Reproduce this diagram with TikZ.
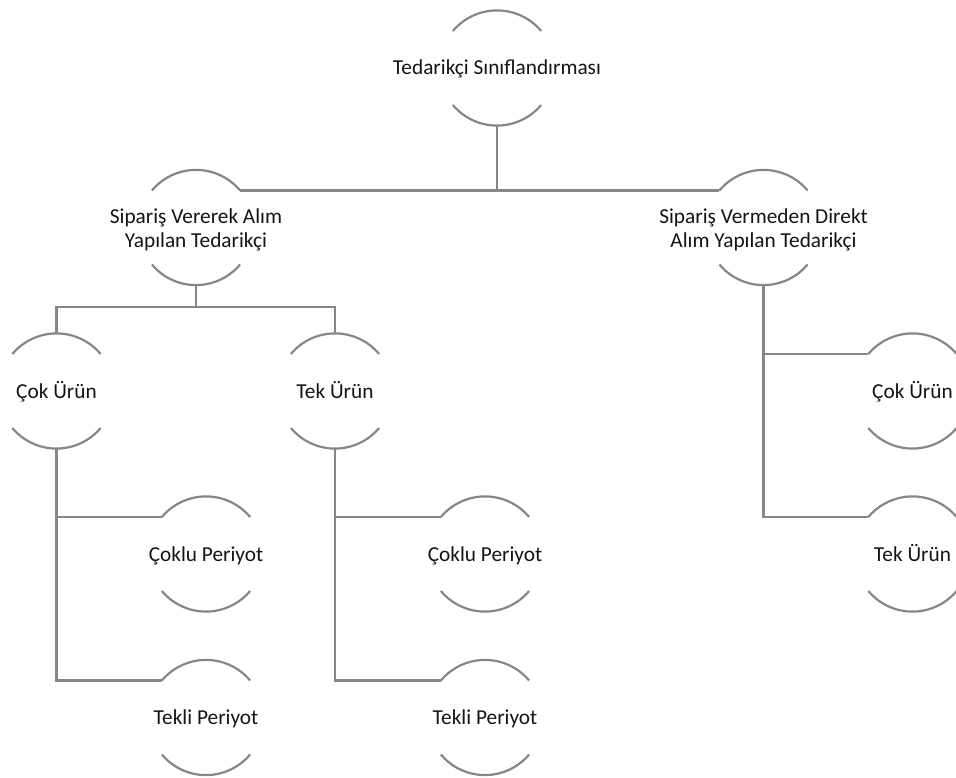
\documentclass[tikz,border=0pt]{standalone}
\usepackage{fontspec}
\setmainfont{Carlito}
\definecolor{linegray}{RGB}{134,134,134}
\definecolor{txt}{RGB}{20,20,20}
\begin{document}
\begin{tikzpicture}[x=1pt, y=-1pt,
  bubble/.style={circle, draw=none, minimum size=115.2pt, inner sep=0pt, outer sep=0pt},
  caption/.style={align=center, text=txt, inner sep=0pt, text height=17pt, text depth=3pt,
    font=\fontsize{21.3}{24}\selectfont},
  caption2/.style={caption, yshift=-13pt},
  link/.style={draw=linegray, line width=2.2pt},
  rim/.style={draw=linegray, line width=2.2pt}]
\useasboundingbox (0,0) rectangle (956,778);

% tree nodes (fixed-size circles, text placed as a centred label)
\node[bubble, label={[caption]center:Tedarikçi Sınıflandırması}] (root) at (497,68) {};
\node[bubble, label={[caption2]center:Sipariş Vererek Alım\\Yapılan Tedarikçi}] (sva) at (196,227.5) {};
\node[bubble, label={[caption2]center:Sipariş Vermeden Direkt\\Alım Yapılan Tedarikçi}] (svd) at (763.5,227.5) {};
\node[bubble, label={[caption]center:Çok Ürün}] (cok1) at (56.5,391) {};
\node[bubble, label={[caption]center:Tek Ürün}] (tek1) at (335,391) {};
\node[bubble, label={[caption]center:Çoklu Periyot}] (cp1) at (206,554) {};
\node[bubble, label={[caption]center:Tekli Periyot}] (tp1) at (206,717.5) {};
\node[bubble, label={[caption]center:Çoklu Periyot}] (cp2) at (485,554) {};
\node[bubble, label={[caption]center:Tekli Periyot}] (tp2) at (485,717.5) {};
\node[bubble, label={[caption]center:Çok Ürün}] (cok2) at (912.5,391) {};
\node[bubble, label={[caption]center:Tek Ürün}] (tek2) at (912.5,554) {};

% upper and lower arcs of every bubble
\foreach \n in {root,sva,svd,cok1,tek1,cp1,tp1,cp2,tp2,cok2,tek2}{
  \draw[rim] (\n.40) arc[start angle=40, end angle=140, radius=57.6pt];
  \draw[rim] (\n.220) arc[start angle=220, end angle=320, radius=57.6pt];
}

% connectors
\coordinate (j0) at (root.south |- sva.40);
\coordinate (j1) at (196,307);
\draw[link] (root.south) -- (j0);
\draw[link] (sva.40) -- (svd.140);
\draw[link] (sva.south) -- (j1);
\draw[link] (cok1.north) |- (j1) -| (tek1.north);
\draw[link] (cok1.south) |- (cp1.140);
\draw[link] (cok1.south) |- (tp1.140);
\draw[link] (tek1.south) |- (cp2.140);
\draw[link] (tek1.south) |- (tp2.140);
\draw[link] (svd.south) |- (cok2.140);
\draw[link] (svd.south) |- (tek2.140);
\end{tikzpicture}
\end{document}
